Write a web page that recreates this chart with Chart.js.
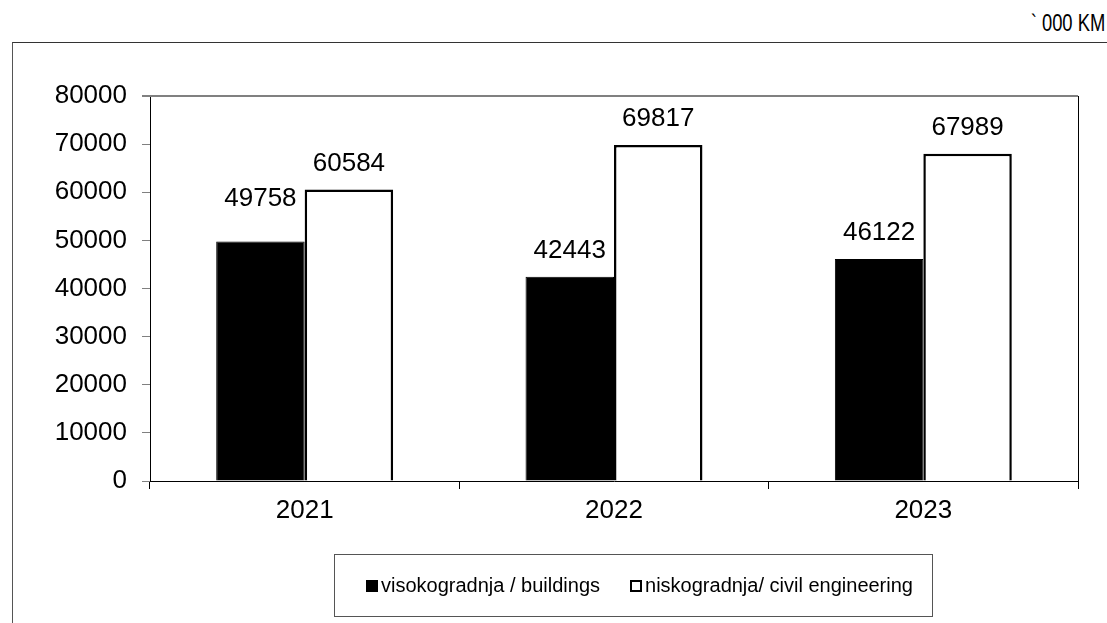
<!DOCTYPE html>
<html>
<head>
<meta charset="utf-8">
<script src="https://cdn.jsdelivr.net/npm/chart.js@4/dist/chart.umd.min.js"></script>
<style>
    body { margin: 0; background: #fff; font-family: "Liberation Sans", Arial, sans-serif; }
    #wrap { position: relative; width: 1107px; height: 623px; overflow: hidden; }
    #frame { position: absolute; left: 12px; top: 42px; width: 1100px; height: 600px;
        border-top: 1.5px solid #333; border-left: 1.5px solid #555; }
    #unit { position: absolute; right: 2px; top: 10px; font-size: 23px; color: #000;
        transform: scaleX(0.8); transform-origin: right center; white-space: nowrap; }
    #chart { position: absolute; left: 0; top: 0; }
    #legend { position: absolute; left: 334px; top: 554px; width: 599px; height: 63px;
        border: 1.5px solid #555; display: flex; align-items: center; padding-left: 31px;
        box-sizing: border-box; font-size: 20px; color: #000; white-space: nowrap; }
    .item { display: flex; align-items: center; margin-right: 30px; flex-shrink: 0; }
    .box { width: 12px; height: 12px; box-sizing: border-box; margin-right: 3px; flex-shrink: 0; }
</style>
</head>
<body>
<div id="wrap">
    <div id="frame"></div>
    <div id="unit">` 000 KM</div>
    <canvas id="chart" width="1107" height="623"></canvas>
    <div id="legend"></div>
</div>
<script>
const years = ['2021', '2022', '2023'];
const buildings = [49758, 42443, 46122];
const civil = [60584, 69817, 67989];
const yTicks = [0, 10000, 20000, 30000, 40000, 50000, 60000, 70000, 80000];

const font = '"Liberation Sans", Arial, sans-serif';

// value labels over the bars
const barLabels = {
    id: 'barLabels',
    afterDatasetsDraw(chart, args, opts) {
        const ctx = chart.ctx;
        ctx.save();
        ctx.font = '26px ' + font;
        ctx.fillStyle = '#000';
        ctx.textAlign = 'center';
        ctx.textBaseline = 'middle';
        chart.data.datasets.forEach((ds, i) => {
            chart.getDatasetMeta(i).data.forEach((bar, j) => {
                const lift = (opts.lift[i] && opts.lift[i][j]) || 0;
                ctx.fillText(String(ds.data[j]), bar.x, bar.y - 26 - lift);
            });
        });
        ctx.restore();
    }
};

// plot area top + right border
const plotBorder = {
    id: 'plotBorder',
    afterDraw(chart) {
        const a = chart.chartArea;
        const ctx = chart.ctx;
        ctx.save();
        ctx.strokeStyle = '#808080';
        ctx.lineWidth = 2;
        ctx.beginPath();
        ctx.moveTo(142, a.top);
        ctx.lineTo(a.right, a.top);
        ctx.stroke();
        ctx.strokeStyle = '#000';
        ctx.lineWidth = 1;
        ctx.beginPath();
        ctx.moveTo(a.right + 0.5, a.top);
        ctx.lineTo(a.right + 0.5, a.bottom);
        ctx.stroke();
        ctx.restore();
    }
};

const chart = new Chart(document.getElementById('chart'), {
    type: 'bar',
    data: {
        labels: years,
        datasets: [
            {
                label: 'visokogradnja / buildings',
                data: buildings,
                backgroundColor: '#000',
                borderColor: '#000',
                borderWidth: 1
            },
            {
                label: 'niskogradnja/ civil engineering',
                data: civil,
                backgroundColor: '#fff',
                borderColor: '#000',
                borderWidth: 2.5
            }
        ]
    },
    options: {
        responsive: false,
        animation: false,
        layout: { padding: { top: 96, right: 29, left: 0, bottom: 0 } },
        datasets: { bar: { barPercentage: 1, categoryPercentage: 0.572 } },
        plugins: {
            legend: { display: false },
            tooltip: { enabled: false },
            barLabels: { lift: [[17, 0, 0], [0, 0, 0]] }
        },
        scales: {
            x: {
                afterFit: s => { s.height = 142; },
                grid: { drawOnChartArea: false, tickLength: 8, color: '#000' },
                border: { color: '#000', width: 1 },
                ticks: { color: '#000', font: { family: font, size: 26 }, padding: 6 }
            },
            y: {
                min: 0,
                max: 80000,
                afterFit: s => { s.width = 150; },
                afterBuildTicks: s => { s.ticks = yTicks.map(v => ({ value: v })); },
                grid: { drawOnChartArea: false, tickLength: 8, color: '#808080' },
                border: { color: '#000', width: 1 },
                ticks: {
                    color: '#000',
                    font: { family: font, size: 26 },
                    padding: 15,
                    callback: v => String(v)
                }
            }
        }
    },
    plugins: [barLabels, plotBorder]
});

// legend
const legend = document.getElementById('legend');
chart.data.datasets.forEach(ds => {
    const item = document.createElement('div');
    item.className = 'item';
    const box = document.createElement('span');
    box.className = 'box';
    box.style.background = ds.backgroundColor;
    box.style.border = '2px solid ' + ds.borderColor;
    const txt = document.createElement('span');
    txt.textContent = ds.label;
    item.appendChild(box);
    item.appendChild(txt);
    legend.appendChild(item);
});
</script>
</body>
</html>
